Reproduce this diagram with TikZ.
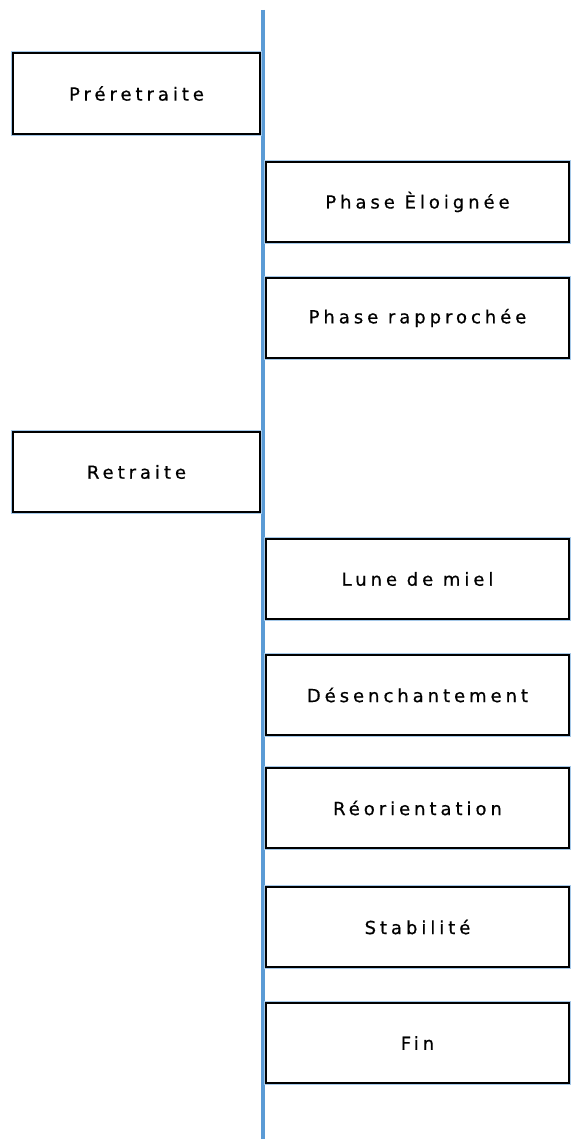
\documentclass[tikz,border=0pt]{standalone}
\usepackage{fontspec}
\newfontfamily\boxfont[LetterSpace=22,FakeBold=0.6]{DejaVu Sans}
\usetikzlibrary{positioning}
\definecolor{lineblue}{RGB}{91,155,213}
\begin{document}
\begin{tikzpicture}[x=1pt,y=1pt] % frise
\tikzstyle{phase} = [draw=black, line width=1.6pt, fill=white, inner sep=0pt, minimum height=80.4pt,
    font=\boxfont\fontsize{18}{21}\selectfont, preaction={draw=lineblue!55, line width=3pt}] % cadre de base
\tikzstyle{leftbox} = [phase, minimum width=247.4pt, anchor=north west] % cadres a gauche de l'axe
\tikzstyle{rightbox} = [phase, minimum width=303.4pt, anchor=north west] % cadres a droite de l'axe
\useasboundingbox (0,0) rectangle (571,-1139);
\coordinate (top) at (263,-10);
\coordinate (bottom) at (263,-1139);
\draw[lineblue, line width=3.6pt] (top) -- (bottom); % axe du temps
\node[leftbox, minimum height=81.4pt] (preretraite) at (12,-52) {Préretraite};
\node[rightbox] (eloignee) at (265,-161) {Phase Èloignée};
\node[rightbox, below=34pt of eloignee] (rapprochee) {Phase rapprochée};
\node[leftbox] (retraite) at (12,-431) {Retraite};
\node[rightbox] (lune) at (265,-538) {Lune de miel};
\node[rightbox, below=34pt of lune] (desench) {Désenchantement};
\node[rightbox, below=31pt of desench] (reorient) {Réorientation};
\node[rightbox, below=37pt of reorient] (stable) {Stabilité};
\node[rightbox, below=34pt of stable] (fin) {Fin};
\end{tikzpicture}
\end{document}
